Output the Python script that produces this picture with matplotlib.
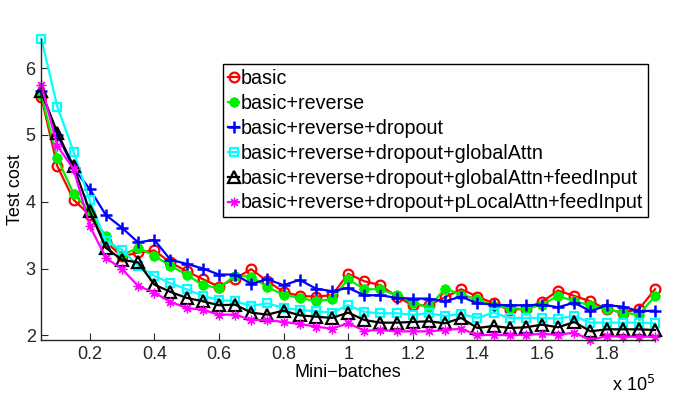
import matplotlib
matplotlib.use("Agg")
import matplotlib.pyplot as plt
from matplotlib.ticker import FuncFormatter

plt.rcParams['font.family'] = ['Liberation Sans', 'DejaVu Sans']

# mini-batch count at each evaluation
minibatches = [5000, 10000, 15000, 20000, 25000, 30000, 35000, 40000, 45000, 50000,
               55000, 60000, 65000, 70000, 75000, 80000, 85000, 90000, 95000, 100000,
               105000, 110000, 115000, 120000, 125000, 130000, 135000, 140000, 145000, 150000,
               155000, 160000, 165000, 170000, 175000, 180000, 185000, 190000, 195000]

basic = [5.57, 4.53, 4.03, 3.80, 3.40, 3.18, 3.24, 3.27, 3.09, 2.96,
         2.84, 2.73, 2.85, 2.99, 2.81, 2.65, 2.59, 2.58, 2.60, 2.92,
         2.81, 2.75, 2.58, 2.45, 2.45, 2.57, 2.69, 2.58, 2.48, 2.38,
         2.40, 2.50, 2.67, 2.59, 2.51, 2.39, 2.34, 2.39, 2.69]
rev = [5.60, 4.65, 4.12, 3.85, 3.48, 3.20, 3.31, 3.19, 3.04, 2.91,
       2.75, 2.71, 2.89, 2.88, 2.72, 2.61, 2.56, 2.51, 2.54, 2.84,
       2.69, 2.69, 2.60, 2.49, 2.42, 2.70, 2.61, 2.54, 2.44, 2.41,
       2.39, 2.46, 2.59, 2.51, 2.45, 2.39, 2.34, 2.31, 2.59]
rev_drop = [5.65, 5.00, 4.50, 4.19, 3.80, 3.61, 3.39, 3.43, 3.13, 3.07,
            3.00, 2.91, 2.91, 2.77, 2.84, 2.75, 2.83, 2.70, 2.66, 2.71,
            2.60, 2.60, 2.56, 2.55, 2.55, 2.51, 2.58, 2.48, 2.46, 2.45,
            2.45, 2.46, 2.42, 2.49, 2.36, 2.45, 2.43, 2.36, 2.37]
global_attn = [6.44, 5.42, 4.75, 4.02, 3.41, 3.28, 3.04, 2.89, 2.78, 2.69,
               2.59, 2.53, 2.51, 2.44, 2.48, 2.41, 2.38, 2.36, 2.34, 2.45,
               2.35, 2.33, 2.33, 2.31, 2.33, 2.29, 2.32, 2.26, 2.34, 2.26,
               2.26, 2.26, 2.25, 2.29, 2.19, 2.19, 2.19, 2.19, 2.18]
global_feed = [5.65, 5.03, 4.53, 3.86, 3.31, 3.13, 3.09, 2.76, 2.65, 2.56,
               2.51, 2.45, 2.46, 2.34, 2.31, 2.37, 2.30, 2.28, 2.26, 2.34,
               2.23, 2.19, 2.19, 2.20, 2.21, 2.18, 2.26, 2.11, 2.14, 2.11,
               2.12, 2.16, 2.12, 2.20, 2.06, 2.09, 2.09, 2.09, 2.08]
local_feed = [5.75, 4.83, 4.49, 3.64, 3.16, 2.99, 2.74, 2.64, 2.50, 2.41,
              2.38, 2.31, 2.31, 2.23, 2.23, 2.20, 2.17, 2.13, 2.10, 2.18,
              2.07, 2.08, 2.06, 2.06, 2.06, 2.08, 2.10, 2.00, 2.01, 2.00,
              2.01, 2.02, 2.01, 2.04, 1.93, 1.99, 1.98, 1.98, 1.98]

labels = ["basic", "basic+reverse", "basic+reverse+dropout",
          "basic+reverse+dropout+globalAttn",
          "basic+reverse+dropout+globalAttn+feedInput",
          "basic+reverse+dropout+pLocalAttn+feedInput"]

fig = plt.figure(figsize=(6.76, 3.94), dpi=100)
ax = fig.add_axes([0.061, 0.137, 0.908, 0.765])

lw = 1.6
ax.plot(minibatches, basic, color='#ff0000', marker='o', ms=7, mew=1.6, mfc='none', lw=lw, label=labels[0], clip_on=False)
ax.plot(minibatches, rev, color='#00ee00', marker=(8, 2, 0), ms=7, mew=2.2, lw=lw, label=labels[1], clip_on=False)
ax.plot(minibatches, rev_drop, color='#0000ff', marker='+', ms=9, mew=1.8, lw=lw, label=labels[2], clip_on=False)
ax.plot(minibatches, global_attn, color='#00ffff', marker='s', ms=6, mew=1.6, mfc='none', lw=lw, label=labels[3], clip_on=False)
ax.plot(minibatches, global_feed, color='black', marker='^', ms=8, mew=1.6, mfc='none', lw=lw, label=labels[4], clip_on=False)
ax.plot(minibatches, local_feed, color='#ff00ff', marker=(8, 2, 0), ms=7, mew=0.9, lw=lw, label=labels[5], clip_on=False)

ax.set_xlim(5000, 195000)
ax.set_ylim(1.93, 6.44)
ax.set_xticks([20000, 40000, 60000, 80000, 100000, 120000, 140000, 160000, 180000])
ax.xaxis.set_major_formatter(FuncFormatter(lambda v, p: '%g' % (v / 1e5)))
ax.set_yticks([2, 3, 4, 5, 6])

for s in ['top', 'right']:
    ax.spines[s].set_visible(False)
for s in ['left', 'bottom']:
    ax.spines[s].set_color('#262626')
    ax.spines[s].set_linewidth(1.0)
ax.tick_params(direction='in', length=5, labelsize=13, colors='#262626', pad=4)

ax.set_xlabel("Mini\u2212batches", fontsize=13, labelpad=1)
ax.set_ylabel("Test cost", fontsize=13, labelpad=1)
ax.text(1.0, -0.115, "x 10$^5$", transform=ax.transAxes, ha='right', va='top', fontsize=13)

leg = ax.legend(loc='upper right', bbox_to_anchor=(0.989, 0.916), fontsize=14.2,
                handlelength=0.55, handletextpad=0.1, borderaxespad=0, borderpad=0.25,
                labelspacing=0.3, fancybox=False, framealpha=1, edgecolor='black')
leg.get_frame().set_linewidth(1.0)

fig.savefig("out.png", dpi=100)
